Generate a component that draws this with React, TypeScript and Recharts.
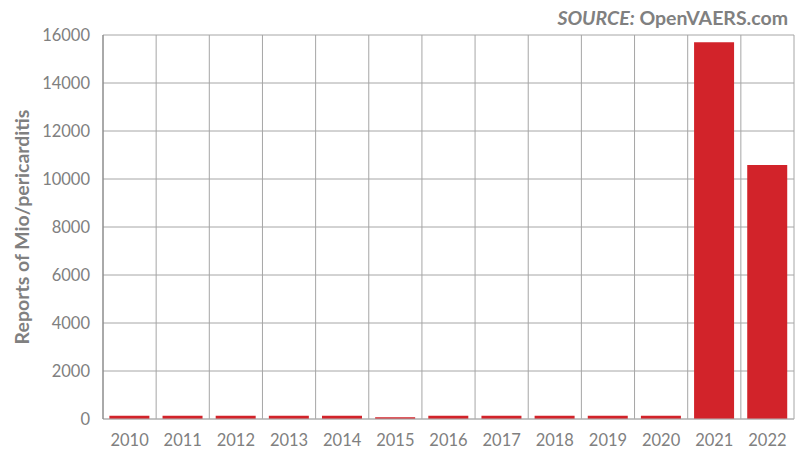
import React from "react";
import { BarChart, Bar, XAxis, YAxis, CartesianGrid, Label } from "recharts";

const years = ["2010", "2011", "2012", "2013", "2014", "2015", "2016", "2017", "2018", "2019", "2020", "2021", "2022"];
const reports = [140, 135, 140, 135, 140, 75, 140, 140, 140, 140, 140, 15700, 10580];
const yTicks = [0, 2000, 4000, 6000, 8000, 10000, 12000, 14000, 16000];

const data = years.map((year, i) => ({ year, reports: reports[i] }));

const FONT = "Lato, 'Open Sans', sans-serif";
const GRAY = "#808080";

export default function App() {
  return (
    <div style={{ position: "absolute", left: 0, top: 0, width: 803, height: 449, background: "#fff", fontFamily: FONT }}>
      <BarChart
        width={803}
        height={449}
        data={data}
        margin={{ top: 35, right: 9, bottom: 0, left: 0 }}
        barCategoryGap="12%"
      >
        <CartesianGrid
          stroke="#a6a6a6"
          horizontal={{ stroke: "#888888" }}
          verticalCoordinatesGenerator={({ offset }: any) =>
            Array.from({ length: years.length + 1 }, (_, i) => offset.left + (i * offset.width) / years.length)
          }
        />
        <XAxis
          dataKey="year"
          height={30}
          tickSize={0}
          tickMargin={15}
          tickLine={false}
          axisLine={{ stroke: "#b3b3b3" }}
          tick={{ fill: GRAY, fontSize: 16.5, fontFamily: FONT }}
          interval={0}
        />
        <YAxis
          width={103}
          domain={[0, 16000]}
          ticks={yTicks}
          tickSize={0}
          tickMargin={13}
          tickLine={false}
          axisLine={{ stroke: GRAY }}
          tick={{ fill: GRAY, fontSize: 16.5, fontFamily: FONT }}
        >
          <Label
            value="Reports of Mio/pericarditis"
            angle={-90}
            position="insideLeft"
            offset={22}
            textAnchor="middle"
            style={{ fill: GRAY, fontSize: 19.5, fontWeight: 700, fontFamily: FONT, textAnchor: "middle" }}
          />
        </YAxis>
        <Bar dataKey="reports" fill="#d2232a" isAnimationActive={false} />
      </BarChart>
      <div
        style={{
          position: "absolute",
          right: 15,
          top: 8,
          fontSize: 19.5,
          lineHeight: 1,
          fontWeight: 700,
          color: GRAY,
          whiteSpace: "nowrap",
        }}
      >
        <span style={{ fontStyle: "italic" }}>SOURCE:</span> OpenVAERS.com
      </div>
    </div>
  );
}
